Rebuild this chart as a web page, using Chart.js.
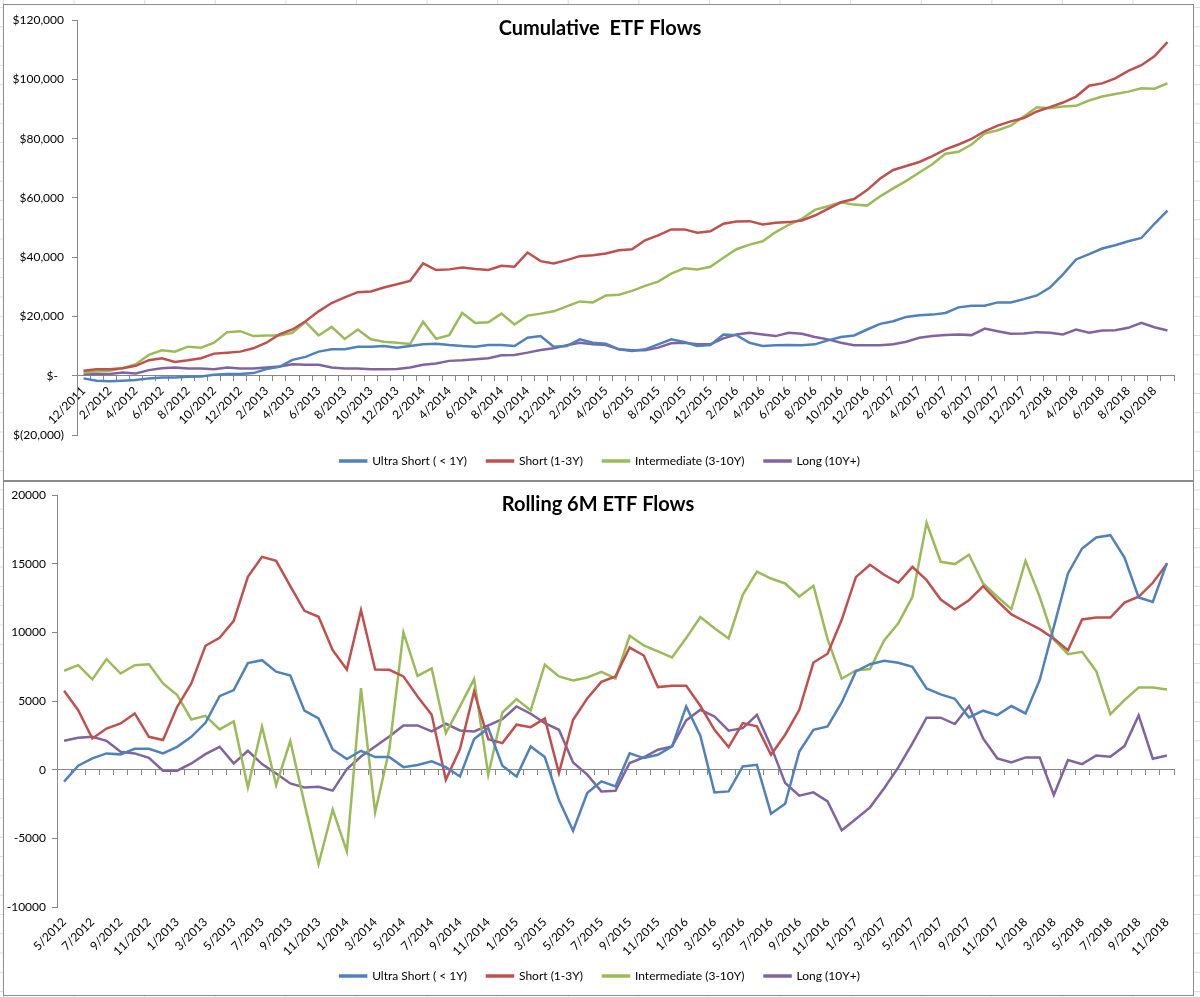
<!DOCTYPE html>
<html>
<head>
<meta charset="utf-8">
<title>ETF Flows</title>
<script src="https://cdn.jsdelivr.net/npm/chart.js@4.4.1/dist/chart.umd.min.js"></script>
<style>
  html, body { margin: 0; padding: 0; }
  body {
    width: 1200px; height: 997px; position: relative; overflow: hidden;
    background-color: #fff;
    background-image:
      linear-gradient(to right, #dcdcdc 1px, transparent 1px),
      linear-gradient(to bottom, #dcdcdc 1px, transparent 1px);
    background-size: 70.6px 19.3px;
    background-position: 3px 0, 0 7px;
  }
  .box {
    position: absolute; left: 3px; width: 1191px;
    box-sizing: border-box; border: 1px solid #8c8c8c;
    background: #fff; overflow: hidden;
  }
  #boxCum { top: 4px; height: 477px; }
  #boxRoll { top: 481px; height: 515px; }
  canvas { position: absolute; left: 0; top: 0; }
</style>
</head>
<body>
<div class="box" id="boxCum"><canvas id="cum" width="1189" height="475" style="width:1189px;height:475px"></canvas></div>
<div class="box" id="boxRoll"><canvas id="roll" width="1189" height="520" style="width:1189px;height:520px"></canvas></div>
<script>
"use strict"

// ---- data : cumulative flows (12/2011 - 11/2018) ----
const cumMonths = [
  '12/2011',
  '1/2012','2/2012','3/2012','4/2012','5/2012','6/2012','7/2012','8/2012','9/2012','10/2012','11/2012','12/2012',
  '1/2013','2/2013','3/2013','4/2013','5/2013','6/2013','7/2013','8/2013','9/2013','10/2013','11/2013','12/2013',
  '1/2014','2/2014','3/2014','4/2014','5/2014','6/2014','7/2014','8/2014','9/2014','10/2014','11/2014','12/2014',
  '1/2015','2/2015','3/2015','4/2015','5/2015','6/2015','7/2015','8/2015','9/2015','10/2015','11/2015','12/2015',
  '1/2016','2/2016','3/2016','4/2016','5/2016','6/2016','7/2016','8/2016','9/2016','10/2016','11/2016','12/2016',
  '1/2017','2/2017','3/2017','4/2017','5/2017','6/2017','7/2017','8/2017','9/2017','10/2017','11/2017','12/2017',
  '1/2018','2/2018','3/2018','4/2018','5/2018','6/2018','7/2018','8/2018','9/2018','10/2018','11/2018'
];
const cumUltraShort = [
  -890, -1670, -1900, -1670, -1450, -890, -560, -560, -330, -220,
  330, 560, 560, 890, 2230, 3010, 5350, 6360, 8140, 8920,
  8920, 9810, 9810, 10040, 9480, 10040, 10600, 10820, 10370, 10040,
  9810, 10370, 10370, 10040, 12820, 13380, 9810, 10040, 12270, 11150,
  10820, 8920, 8360, 8920, 10600, 12270, 11370, 10040, 10370, 13940,
  13710, 11150, 10040, 10260, 10370, 10260, 10600, 11930, 13050, 13600,
  15610, 17510, 18400, 19850, 20400, 20630, 21190, 23080, 23640, 23640,
  24750, 24750, 25870, 27100, 29770, 34230, 39250, 41030, 42930, 44040,
  45380, 46490, 51290, 55750
];
const cumShort = [
  1670, 2230, 2230, 2560, 3350, 5240, 5910, 4680, 5240, 5910,
  7470, 7800, 8140, 9250, 11150, 13940, 15610, 18400, 21740, 24530,
  26430, 28210, 28430, 29770, 30890, 32000, 37900, 35680, 35900, 36570,
  36010, 35680, 37130, 36800, 41590, 38690, 37910, 39020, 40360, 40700,
  41260, 42370, 42700, 45720, 47390, 49400, 49400, 48280, 48730, 51290,
  52070, 52180, 51070, 51620, 51850, 52400, 54080, 56310, 58540, 59650,
  62660, 66560, 69460, 70800, 72140, 74150, 76380, 78050, 79950, 82510,
  84410, 85860, 86970, 89200, 90650, 92210, 94220, 97900, 98680, 100350,
  102910, 104810, 107820, 112620
];
const cumIntermediate = [
  1115, 1450, 1670, 2560, 3900, 7020, 8590, 8140, 9810, 9480,
  11150, 14720, 15050, 13380, 13600, 13600, 14500, 18180, 13600, 16500,
  12400, 15610, 12300, 11450, 11150, 10700, 18200, 12500, 13700, 21200,
  17840, 18070, 20960, 17280, 20290, 20960, 21740, 23420, 25090, 24750,
  27100, 27320, 28660, 30330, 31780, 34460, 36240, 35900, 36800, 39810,
  42700, 44260, 45380, 48500, 50960, 52960, 55970, 57200, 58540, 57760,
  57420, 60550, 63230, 65790, 68580, 71360, 74930, 75600, 78050, 81730,
  82840, 84410, 87530, 90650, 90320, 90870, 91100, 92880, 94220, 95110,
  95890, 97000, 96890, 98680
];
const cumLong = [
  560, 560, 560, 1115, 780, 1900, 2560, 2790, 2450, 2450,
  2230, 2790, 2450, 2450, 2790, 3120, 3900, 3680, 3680, 2790,
  2450, 2450, 2230, 2230, 2300, 2790, 3700, 4120, 5020, 5240,
  5580, 5910, 6910, 7020, 7800, 8700, 9250, 10260, 11150, 10600,
  10370, 8920, 8590, 8590, 9480, 10930, 11150, 10600, 10600, 12600,
  13940, 14500, 13940, 13380, 14500, 14160, 13050, 12270, 11150, 10260,
  10260, 10260, 10600, 11480, 12820, 13380, 13710, 13940, 13710, 15940,
  15050, 14160, 14270, 14720, 14500, 13940, 15610, 14500, 15270, 15390,
  16170, 17840, 16390, 15270
];
const cumTickValues = [-20000, 0, 20000, 40000, 60000, 80000, 100000, 120000];
const cumTickLabels = ['$(20,000)', '$-  ', '$20,000', '$40,000', '$60,000', '$80,000', '$100,000', '$120,000'];

// ---- data : rolling 6 month flows (5/2012 - 11/2018) ----
const rollMonths = [
  '5/2012','6/2012','7/2012','8/2012','9/2012','10/2012','11/2012','12/2012',
  '1/2013','2/2013','3/2013','4/2013','5/2013','6/2013','7/2013','8/2013','9/2013','10/2013','11/2013','12/2013',
  '1/2014','2/2014','3/2014','4/2014','5/2014','6/2014','7/2014','8/2014','9/2014','10/2014','11/2014','12/2014',
  '1/2015','2/2015','3/2015','4/2015','5/2015','6/2015','7/2015','8/2015','9/2015','10/2015','11/2015','12/2015',
  '1/2016','2/2016','3/2016','4/2016','5/2016','6/2016','7/2016','8/2016','9/2016','10/2016','11/2016','12/2016',
  '1/2017','2/2017','3/2017','4/2017','5/2017','6/2017','7/2017','8/2017','9/2017','10/2017','11/2017','12/2017',
  '1/2018','2/2018','3/2018','4/2018','5/2018','6/2018','7/2018','8/2018','9/2018','10/2018','11/2018'
];
const rollUltraShort = [
  -870, 290, 830, 1190, 1120, 1530, 1530, 1190, 1670, 2400,
  3420, 5360, 5800, 7770, 7980, 7140, 6870, 4300, 3740, 1480,
  780, 1380, 920, 920, 190, 340, 610, 190, -490, 2230,
  3030, 290, -490, 1700, 920, -2210, -4440, -1700, -850, -1210,
  1190, 850, 1090, 1700, 4610, 2480, -1650, -1580, 240, 360,
  -3200, -2480, 1330, 2910, 3160, 4900, 7160, 7690, 7930, 7790,
  7500, 5920, 5490, 5170, 3810, 4300, 3980, 4640, 4100, 6530,
  10410, 14300, 16120, 16920, 17090, 15460, 12550, 12230, 15070
];
const rollShort = [
  5750, 4340, 2280, 3000, 3370, 4100, 2400, 2160, 4590, 6290,
  9030, 9610, 10850, 14050, 15510, 15220, 13370, 11580, 11140, 8710,
  7300, 11620, 7300, 7280, 6800, 5340, 4000, -730, 1500, 5700,
  2230, 1940, 3280, 3100, 3740, -240, 3640, 5190, 6400, 6800,
  8900, 8320, 6020, 6120, 6120, 4660, 2910, 1650, 3400, 3160,
  1090, 2550, 4370, 7810, 8450, 10920, 14030, 14930, 14200, 13620,
  14780, 13810, 12400, 11670, 12350, 13370, 12300, 11310, 10780, 10240,
  9560, 8710, 10950, 11090, 11090, 12180, 12600, 13620, 14980
];
const rollIntermediate = [
  7210, 7620, 6580, 8060, 7010, 7620, 7690, 6290, 5440, 3660,
  3930, 2940, 3520, -1290, 3130, -1120, 2090, -2450, -6870, -2900,
  -5950, 5950, -3100, 1460, 10000, 6840, 7380, 2670, 4610, 6600,
  -360, 4170, 5150, 4320, 7650, 6800, 6500, 6720, 7130, 6650,
  9760, 9050, 8620, 8180, 9590, 11120, 10310, 9560, 12740, 14440,
  13930, 13570, 12620, 13400, 9510, 6630, 7230, 7330, 9420, 10660,
  12600, 17990, 15150, 14980, 15660, 13570, 12600, 11700, 15220, 12600,
  9490, 8420, 8590, 7180, 4050, 5070, 5990, 5990, 5850
];
const rollLong = [
  2110, 2330, 2400, 2110, 1310, 1190, 870, -70, -70, 460,
  1140, 1670, 460, 1380, 410, -270, -1000, -1290, -1240, -1520,
  50, 960, 1690, 2420, 3230, 3230, 2790, 3350, 2860, 2790,
  3230, 3690, 4610, 4080, 3400, 2910, 530, -360, -1580, -1530,
  490, 900, 1460, 1700, 3590, 4370, 3880, 2840, 3030, 4000,
  1700, -970, -1890, -1650, -2310, -4420, -3590, -2740, -1350, 170,
  1920, 3790, 3790, 3330, 4640, 2280, 830, 530, 900, 900,
  -1840, 700, 410, 1040, 950, 1720, 3960, 800, 1040
];
const rollTickValues = [-10000, -5000, 0, 5000, 10000, 15000, 20000];
const rollTickLabels = ['-10000', '-5000', '0', '5000', '10000', '15000', '20000'];

const seriesNames = ['Ultra Short ( < 1Y)', 'Short (1-3Y)', 'Intermediate (3-10Y)', 'Long (10Y+)'];
const seriesColors = ['#4f81bd', '#c0504d', '#9bbb59', '#8064a2'];

// ---- styles ----
const axisGray = '#868686';
const tickFont = { family: 'Lato', size: 12 };
const legendFont = { family: 'Lato', size: 12 };

/*
Draws the chart title inside the plot area, the way the spreadsheet does,
so it takes no layout space.
*/
const boxTitle = {
  id: 'boxTitle',
  afterDraw(chart, args, opts) {
    const ctx = chart.ctx;
    ctx.save();
    ctx.font = 'bold 20px Lato';
    ctx.fillStyle = '#000';
    ctx.textAlign = 'center';
    ctx.textBaseline = 'middle';
    ctx.fillText(opts.text, opts.x, opts.y);
    ctx.restore();
  }
};

/*
The legend spans the whole width left of the plot's right edge; move its left
edge in so the row is centred on the box like in the original.
dy moves it up when the axis above needs extra room for its labels.
*/
const legendShift = {
  id: 'legendShift',
  afterLayout(chart, args, opts) {
    if (chart.legend) {
      chart.legend.left += opts.dx;
      chart.legend.top += opts.dy;
      chart.legend.bottom += opts.dy;
    }
  }
};

function makeDatasets(seriesList) {
  return seriesList.map((data, i) => ({
    label: seriesNames[i],
    data: data,
    borderColor: seriesColors[i],
    backgroundColor: seriesColors[i],
    borderWidth: 2.5,
    pointRadius: 0,
    pointHoverRadius: 0,
    tension: 0,
    fill: false
  }));
}

function legendOptions() {
  return {
    position: 'bottom',
    labels: { boxWidth: 26, boxHeight: 1, padding: 20, color: '#000', font: legendFont }
  };
}

// every other month gets a label, like the original axis
function everyOther(list) {
  return function(value, index) {
    return index % 2 === 0 ? list[index] : '';
  };
}

// ---- top chart ----
new Chart(document.getElementById('cum'), {
  type: 'line',
  data: {
    labels: cumMonths,
    datasets: makeDatasets([cumUltraShort, cumShort, cumIntermediate, cumLong])
  },
  plugins: [boxTitle, legendShift],
  options: {
    responsive: false,
    animation: false,
    layout: { padding: { left: 0, right: 19, top: 13, bottom: 3 } },
    scales: {
      x: {
        type: 'category',
        position: { y: 0 },
        offset: true,
        border: { display: true, color: axisGray },
        grid: { offset: true, drawOnChartArea: false, drawTicks: true, tickLength: 5, color: axisGray },
        ticks: {
          autoSkip: false, maxRotation: 45, minRotation: 45, padding: 3,
          color: '#000', font: tickFont, callback: everyOther(cumMonths)
        }
      },
      y: {
        min: -20000,
        max: 120000,
        afterFit(scale) { scale.width = 73; },
        border: { display: true, color: axisGray },
        grid: { drawOnChartArea: false, drawTicks: true, tickLength: 5, color: axisGray },
        ticks: {
          stepSize: 20000, padding: 8, color: '#000', font: tickFont,
          callback: (v) => cumTickLabels[cumTickValues.indexOf(v)]
        }
      }
    },
    plugins: {
      legend: legendOptions(),
      legendShift: { dx: 22, dy: 0 },
      tooltip: { enabled: false },
      boxTitle: { text: 'Cumulative  ETF Flows', x: 596, y: 24 }
    }
  }
});

// ---- bottom chart ----
new Chart(document.getElementById('roll'), {
  type: 'line',
  data: {
    labels: rollMonths,
    datasets: makeDatasets([rollUltraShort, rollShort, rollIntermediate, rollLong])
  },
  plugins: [boxTitle, legendShift],
  options: {
    responsive: false,
    animation: false,
    layout: { padding: { left: 0, right: 19, top: 13, bottom: 3 } },
    scales: {
      x: {
        type: 'category',
        position: 'bottom',
        offset: true,
        afterFit(scale) { scale.height = 50; },
        border: { display: false },
        grid: { display: false, drawTicks: false },
        ticks: {
          autoSkip: false, maxRotation: 45, minRotation: 45, padding: 8,
          color: '#000', font: tickFont, callback: everyOther(rollMonths)
        }
      },
      // zero line with its tick marks
      x2: {
        type: 'category',
        axis: 'x',
        labels: rollMonths,
        position: { y: 0 },
        offset: true,
        border: { display: true, color: axisGray },
        grid: { offset: true, drawOnChartArea: false, drawTicks: true, tickLength: 5, color: axisGray },
        ticks: { display: false }
      },
      y: {
        min: -10000,
        max: 20000,
        afterFit(scale) { scale.width = 53; },
        border: { display: true, color: axisGray },
        grid: { drawOnChartArea: false, drawTicks: true, tickLength: 5, color: axisGray },
        ticks: {
          stepSize: 5000, padding: 6, color: '#000', font: tickFont,
          callback: (v) => rollTickLabels[rollTickValues.indexOf(v)]
        }
      }
    },
    plugins: {
      legend: legendOptions(),
      legendShift: { dx: 22, dy: -7 },
      tooltip: { enabled: false },
      boxTitle: { text: 'Rolling 6M ETF Flows', x: 594, y: 23 }
    }
  }
});
</script>
</body>
</html>
